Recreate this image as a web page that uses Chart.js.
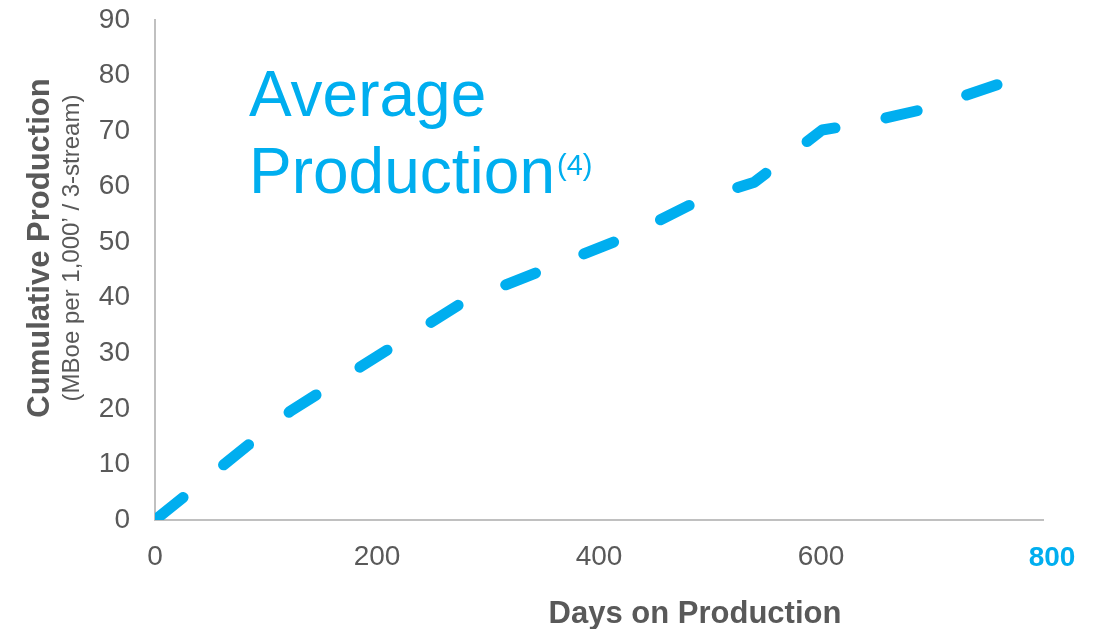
<!DOCTYPE html>
<html>
<head>
<meta charset="utf-8">
<title>Average Production</title>
<script src="https://cdn.jsdelivr.net/npm/chart.js@4/dist/chart.umd.min.js"></script>
<style>
  html, body { margin: 0; padding: 0; background: #fff; }
  #wrap { position: relative; width: 1104px; height: 629px; }
</style>
</head>
<body>
<div id="wrap"><canvas id="prodchart"></canvas></div>
<script>
// cumulative production curve (MBoe per 1,000' lateral) vs. days on production
var days = [0, 122, 279, 423, 495, 540, 601, 635, 694, 761];
var cumProduction = [0, 19.6, 39.4, 50.8, 58.0, 60.8, 70.2, 71.3, 74.0, 78.5];

var xTicks = [0, 200, 400, 600, 800];
var yTicks = [0, 10, 20, 30, 40, 50, 60, 70, 80, 90];
var lastDay = 800;

var BLUE = '#00aeef';
var GREY = '#595959';
var FONT = "'Liberation Sans', Arial, sans-serif";

var points = [];
for (var i = 0; i < days.length; i++) {
  points.push({ x: days[i], y: cumProduction[i] });
}

// titles and the big series label are painted straight onto the canvas
var labelsPlugin = {
  id: 'labels',
  afterDraw: function(chart) {
    var ctx = chart.ctx;
    var xs = chart.scales.x;
    ctx.save();

    // series label
    ctx.fillStyle = BLUE;
    ctx.textAlign = 'left';
    ctx.textBaseline = 'alphabetic';
    ctx.font = '64px ' + FONT;
    ctx.fillText('Average', 249, 116);
    ctx.fillText('Production', 249, 193);
    var w = ctx.measureText('Production').width;
    ctx.font = '29px ' + FONT;
    ctx.fillText('(4)', 249 + w + 2, 175);

    // last x tick, highlighted and nudged right
    ctx.font = 'bold 28px ' + FONT;
    ctx.textAlign = 'center';
    ctx.fillText(String(lastDay), xs.getPixelForValue(lastDay) + 9, 566);

    // x axis title
    ctx.fillStyle = GREY;
    ctx.font = 'bold 31px ' + FONT;
    ctx.fillText('Days on Production', 695, 623);

    // y axis title, two lines
    ctx.translate(0, 248);
    ctx.rotate(-Math.PI / 2);
    ctx.font = 'bold 31px ' + FONT;
    ctx.fillText('Cumulative Production', 0, 49);
    ctx.font = '24px ' + FONT;
    ctx.fillText('(MBoe per 1,000\u2019 / 3-stream)', 0, 79);

    ctx.restore();
  }
};

var ctx = document.getElementById('prodchart').getContext('2d');
var chart = new Chart(ctx, {
  type: 'line',
  data: {
    datasets: [{
      data: points,
      borderColor: BLUE,
      borderWidth: 11,
      borderDash: [32, 52],
      borderDashOffset: -4,
      borderCapStyle: 'round',
      borderJoinStyle: 'round',
      pointRadius: 0,
      tension: 0,
      fill: false,
      clip: 0
    }]
  },
  options: {
    responsive: true,
    maintainAspectRatio: false,
    animation: false,
    devicePixelRatio: 1,
    layout: { padding: { top: 20, right: 61, left: 0, bottom: 0 } },
    plugins: {
      legend: { display: false },
      tooltip: { enabled: false }
    },
    scales: {
      x: {
        type: 'linear',
        min: 0,
        max: lastDay,
        afterBuildTicks: function(scale) {
          scale.ticks = xTicks.map(function(v) { return { value: v }; });
        },
        afterFit: function(scale) {
          scale.height = 109;
          scale.paddingLeft = 0;
          scale.paddingRight = 0;
        },
        grid: { display: false, drawTicks: false },
        border: { display: true, color: '#c0c0c0', width: 2 },
        ticks: {
          padding: 20,
          maxRotation: 0,
          color: function(c) { return c.tick && c.tick.value === lastDay ? 'rgba(0,0,0,0)' : GREY; },
          font: { family: FONT, size: 28 }
        }
      },
      y: {
        type: 'linear',
        min: 0,
        max: 90,
        afterBuildTicks: function(scale) {
          scale.ticks = yTicks.map(function(v) { return { value: v }; });
        },
        afterFit: function(scale) {
          scale.width = 155;
          scale.paddingTop = 0;
          scale.paddingBottom = 0;
        },
        grid: { display: false, drawTicks: false },
        border: { display: true, color: '#c0c0c0', width: 2 },
        ticks: {
          padding: 25,
          color: GREY,
          font: { family: FONT, size: 28 }
        }
      }
    }
  },
  plugins: [labelsPlugin]
});
</script>
</body>
</html>
